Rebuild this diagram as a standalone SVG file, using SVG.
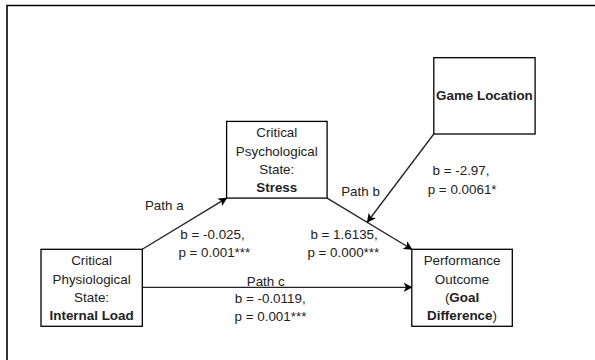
<svg xmlns="http://www.w3.org/2000/svg" width="595" height="360" viewBox="0 0 595 360">
<style>
.box{fill:#fff;stroke:#000;stroke-width:1.3}
.t{font-family:"Liberation Sans",Arial,sans-serif;font-size:13.4px;fill:#222;text-anchor:middle}
.b{font-weight:bold}
.l{font-family:"Liberation Sans",Arial,sans-serif;font-size:13.4px;fill:#222}
.c{fill:none;stroke:#222;stroke-width:1.3}
</style>
<defs>
<marker id="ah" viewBox="0 0 10 10" refX="9" refY="5" markerWidth="9" markerHeight="9" markerUnits="userSpaceOnUse" orient="auto">
<path d="M0,0 L10,5 L0,10 L2.5,5 Z" fill="#000"/>
</marker>
</defs>
<rect width="595" height="360" fill="#fff"/>
<path d="M7,360 V5.5 H595" fill="none" stroke="#000" stroke-width="1.6"/>
<g id="connectors">
<line class="c" x1="142.3" y1="249.3" x2="226.6" y2="198.1" marker-end="url(#ah)"/>
<line class="c" x1="327.1" y1="198.1" x2="411.8" y2="249.3" marker-end="url(#ah)"/>
<line class="c" x1="433.8" y1="134" x2="367.4" y2="222" marker-end="url(#ah)"/>
<line class="c" x1="142.3" y1="287.3" x2="411.8" y2="287.3" marker-end="url(#ah)"/>
</g>
<g id="labels">
<text class="t" x="164.3" y="209.5">Path a</text>
<text class="l" x="180.3" y="238.7">b = -0.025,</text>
<text class="l" x="178.4" y="257.3">p = 0.001***</text>
<text class="t" x="360.5" y="196.2">Path b</text>
<text class="l" x="310.4" y="238.7">b = 1.6135,</text>
<text class="l" x="307.4" y="257.3">p = 0.000***</text>
<text class="t" x="461" y="175.3">b = -2.97,</text>
<text class="l" x="427.7" y="193.9">p = 0.0061*</text>
<text class="t" x="265.7" y="285.5">Path c</text>
<text class="t" x="270.2" y="303.2">b = -0.0119,</text>
<text class="l" x="234.5" y="321">p = 0.001***</text>
</g>
<g id="internal-load">
<rect class="box" x="41" y="249.3" width="101.3" height="77"/>
<text class="t" x="91.6" y="265.4">Critical</text>
<text class="t" x="91.6" y="283.6">Physiological</text>
<text class="t" x="91.6" y="301.8">State:</text>
<text class="t b" x="91.6" y="320">Internal Load</text>
</g>
<g id="stress">
<rect class="box" x="226.6" y="121.4" width="100.5" height="76.7"/>
<text class="t" x="276.8" y="137.4">Critical</text>
<text class="t" x="276.8" y="155.6">Psychological</text>
<text class="t" x="276.8" y="173.8">State:</text>
<text class="t b" x="276.8" y="192">Stress</text>
</g>
<g id="game-location">
<rect class="box" x="433.8" y="57.7" width="101.3" height="76.3"/>
<text class="t b" x="484.4" y="100.2">Game Location</text>
</g>
<g id="performance">
<rect class="box" x="411.8" y="249.3" width="100.5" height="77"/>
<text class="t" x="462" y="265.4">Performance</text>
<text class="t" x="462" y="283.6">Outcome</text>
<text class="t" x="462" y="301.8">(<tspan class="b">Goal</tspan></text>
<text class="t" x="462" y="320"><tspan class="b">Difference</tspan>)</text>
</g>
</svg>
